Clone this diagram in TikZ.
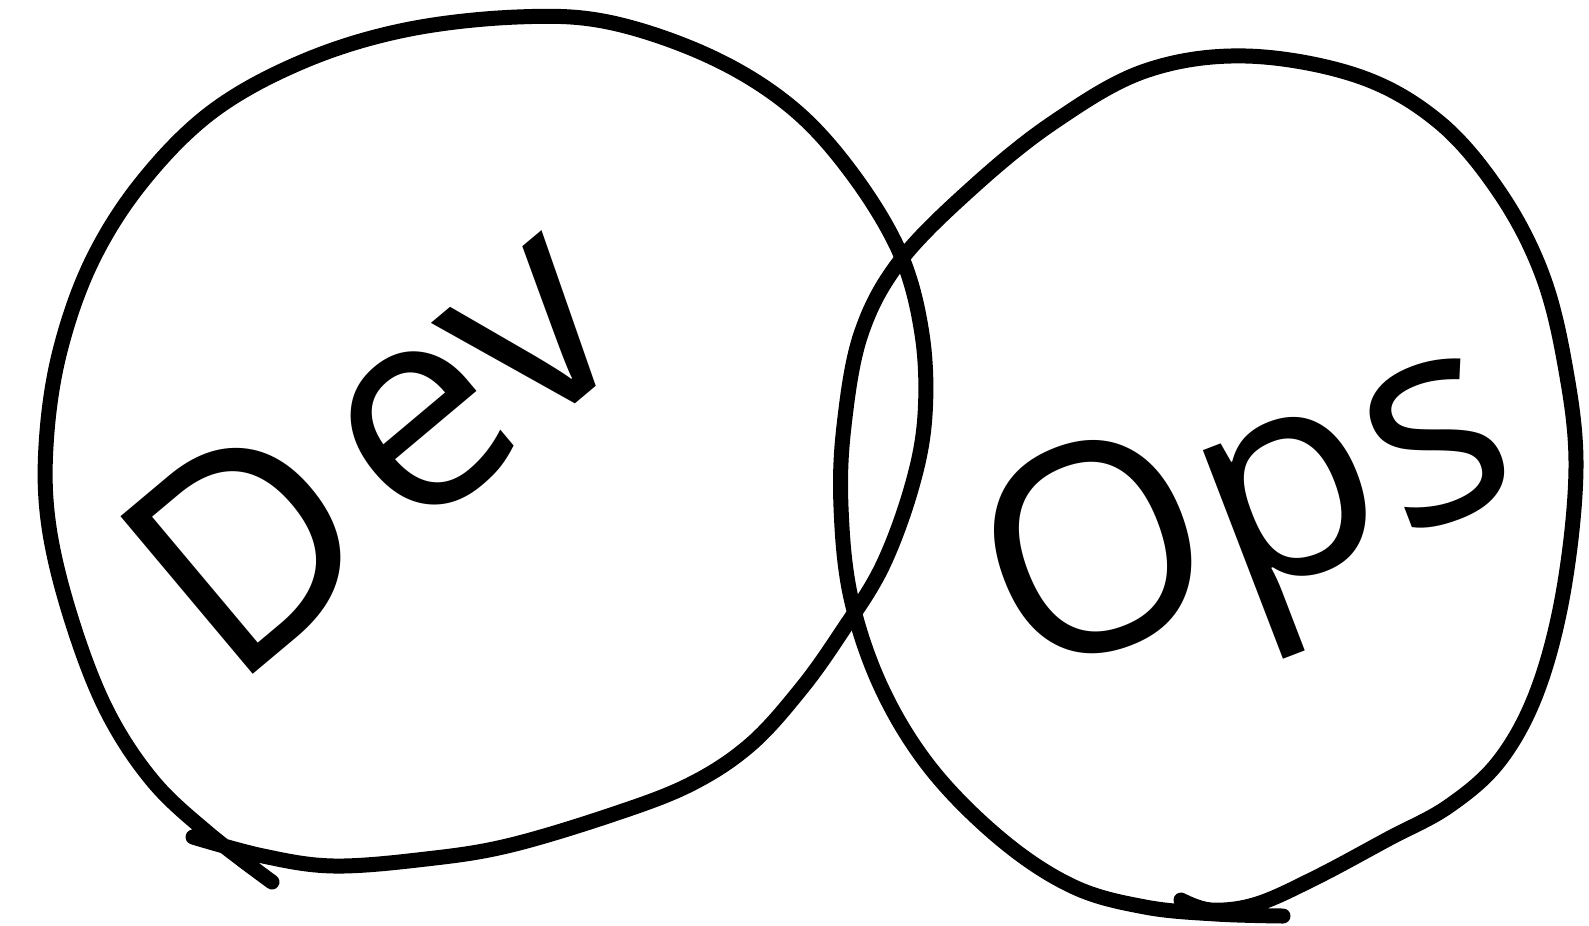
\documentclass[tikz,border=0pt]{standalone}
\usepackage{fontspec}
\setmainfont{Open Sans}
\usepackage{tikz}
\tikzset{
  blob/.style={draw, line width=1.5mm, line cap=round, line join=round},
  word/.style={inner sep=0pt, font=\fontsize{82}{82}\selectfont},
}

\begin{document}
\begin{tikzpicture}[x=0.1mm, y=-0.1mm]
  \useasboundingbox (0,0) rectangle (1589,925);
  % left loop
  \draw[blob] plot[smooth, tension=0.6] coordinates {
    (272,882) (208,833) (152,780) (106,709) (71,618) (49,527) (46,446)
    (59,355) (91,263) (142,182) (213,111) (304,61) (405,30) (517,17)
    (608,22) (709,56) (790,106) (851,172) (900,253) (922,334) (925,415)
    (912,486) (882,567) (841,633) (801,689) (750,745) (689,785) (608,816)
    (507,846) (426,859) (334,866) (263,856) (193,837)};
  % right loop
  \draw[blob] plot[smooth, tension=0.6] coordinates {
    (1181,900) (1211,910) (1257,904) (1317,877) (1388,839) (1449,806)
    (1500,760) (1538,689) (1564,588) (1576,466) (1565,365) (1542,274)
    (1500,193) (1439,122) (1358,76) (1246,56) (1145,71) (1054,122)
    (973,187) (900,261) (861,334) (844,426) (841,507) (851,598) (882,689)
    (932,770) (1003,841) (1074,887) (1145,907) (1216,914) (1283,916)};

  \node[word, rotate=40] (dev) at (371,443) {D\kern7pt ev};
  \node[word, rotate=21] (ops) at (1252,522) {Ops};
\end{tikzpicture}
\end{document}
